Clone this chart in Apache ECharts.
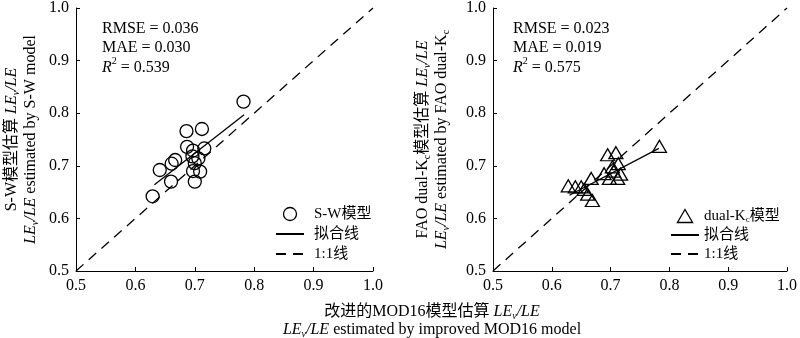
<!DOCTYPE html>
<html>
<head>
<meta charset="utf-8">
<script src="https://cdn.jsdelivr.net/npm/echarts@6/dist/echarts.min.js"></script>
<style>
html,body{margin:0;padding:0;background:#fff;}
#c{width:800px;height:338px;}
</style>
</head>
<body>
<div id="c"></div>
<script>
// ---- data ----
const axisTicks = [0.5, 0.6, 0.7, 0.8, 0.9, 1.0];
// S-W model: [improved MOD16, S-W]
const swPoints = [
  [0.782,0.822],[0.686,0.766],[0.712,0.770],[0.687,0.736],[0.697,0.729],
  [0.716,0.733],[0.696,0.718],[0.706,0.714],[0.667,0.711],[0.661,0.704],
  [0.641,0.692],[0.660,0.670],[0.700,0.670],[0.709,0.689],[0.697,0.690],
  [0.629,0.642],[0.700,0.705]
];
const swFit = [[0.632,0.664],[0.783,0.797]];
// FAO dual-Kc model: [improved MOD16, dual-Kc]
const kcPoints = [
  [0.783,0.737],[0.695,0.721],[0.709,0.725],[0.713,0.704],[0.703,0.698],
  [0.689,0.685],[0.698,0.676],[0.717,0.684],[0.712,0.676],[0.667,0.676],
  [0.628,0.662],[0.640,0.660],[0.650,0.660],[0.661,0.646],[0.669,0.634],
  [0.705,0.690],[0.655,0.655]
];
const kcFit = [[0.630,0.644],[0.782,0.733]];
const oneToOne = [[0.5,0.5],[1.0,1.0]];
const swStats = {rmse:'0.036', mae:'0.030', r2:'0.539'};
const kcStats = {rmse:'0.023', mae:'0.019', r2:'0.575'};

// ---- styling ----
const FF = '"Liberation Serif","Times New Roman","Noto Sans CJK SC",serif';
const rich = {
  n:{fontFamily:FF,fontSize:16,color:'#000',lineHeight:18.5},
  it:{fontFamily:FF,fontSize:16,color:'#000',fontStyle:'italic',lineHeight:18.5},
  sub:{fontFamily:FF,fontSize:10,color:'#000',fontStyle:'italic',verticalAlign:'bottom',lineHeight:14},
  subn:{fontFamily:FF,fontSize:10,color:'#000',verticalAlign:'bottom',lineHeight:14},
  sup:{fontFamily:FF,fontSize:10,color:'#000',verticalAlign:'top',lineHeight:22}
};
function axisCommon(){
  return {
    type:'value', min:0.5, max:1.0, interval:0.1,
    axisLine:{show:true,lineStyle:{color:'#000',width:1}},
    axisTick:{show:true,inside:true,length:4,lineStyle:{color:'#000'}},
    splitLine:{show:false},
    axisLabel:{color:'#000',fontFamily:FF,fontSize:16,margin:7,
      formatter:v=>v.toFixed(1)}
  };
}
const xA0 = Object.assign(axisCommon(),{gridIndex:0});
const xA1 = Object.assign(axisCommon(),{gridIndex:1});
const yA0 = Object.assign(axisCommon(),{gridIndex:0,
  name:'{n|S-W模型估算 }{it|LE}{sub|v}{it|/LE}\n{it|LE}{sub|v}{it|/LE}{n| estimated by S-W model}',
  nameLocation:'middle', nameGap:36, nameRotate:90,
  nameTextStyle:{rich:rich, align:'center'}
});
const yA1 = Object.assign(axisCommon(),{gridIndex:1,
  name:'{n|FAO dual-K}{subn|c}{n|模型估算 }{it|LE}{sub|v}{it|/LE}\n{it|LE}{sub|v}{it|/LE}{n| estimated by FAO dual-K}{subn|c}',
  nameLocation:'middle', nameGap:42, nameRotate:90,
  nameTextStyle:{rich:rich, align:'center'}
});

function statsText(x, s){
  return {
    type:'text', left:x, top:21,
    style:{
      text:'{n|RMSE = '+s.rmse+'}\n{n|MAE = '+s.mae+'}\n{it|R}{sup|2}{n| = '+s.r2+'}',
      rich:rich, fill:'#000'
    }
  };
}

function legendText(pad){
  return {fontFamily:FF,fontSize:15,color:'#000',padding:[0,0,0,pad],lineHeight:16,
    rich:{n:{fontFamily:FF,fontSize:15,color:'#000',lineHeight:16},
          sub:{fontFamily:FF,fontSize:9,color:'#000',verticalAlign:'bottom',lineHeight:12}}};
}
const hideSym = {color:'rgba(0,0,0,0)',borderColor:'rgba(0,0,0,0)',borderWidth:0,opacity:0};
const triPath = 'path://M7,0L14,12L0,12Z';

const option = {
  backgroundColor:'#fff',
  animation:false,
  grid:[
    {left:76, top:4, width:297, height:267},
    {left:493, top:4, width:296, height:267}
  ],
  xAxis:[xA0,xA1],
  yAxis:[yA0,yA1],
  legend:[
    {orient:'vertical', left:275, top:206, padding:0, itemWidth:28, itemHeight:13, itemGap:4,
     symbolKeepAspect:true, textStyle:legendText(5), selectedMode:false,
     data:[
       {name:'S-W模型', itemStyle:{borderWidth:1.3}},
       {name:'拟合线', itemStyle:hideSym},
       {name:'1:1线', itemStyle:hideSym}
     ]},
    {orient:'vertical', left:670, top:208, padding:0, itemWidth:28, itemHeight:13, itemGap:3,
     symbolKeepAspect:true, textStyle:legendText(0), selectedMode:false,
     data:[
       {name:'dual-Kc模型', icon:triPath, itemStyle:{borderWidth:1.3}},
       {name:'拟合线 ', itemStyle:hideSym},
       {name:'1:1线 ', itemStyle:hideSym}
     ],
     formatter:function(n){ return n==='dual-Kc模型' ? '{n|dual-K}{sub|c}{n|模型}' : n.trim(); }}
  ],
  graphic:[
    statsText(102, swStats),
    statsText(513, kcStats),
    {type:'text', x:432, y:312,
     style:{text:'{n|改进的MOD16模型估算 }{it|LE}{sub|v}{it|/LE}',
       rich:rich, fill:'#000', align:'center', verticalAlign:'middle'}},
    {type:'text', x:432, y:330,
     style:{text:'{it|LE}{sub|v}{it|/LE}{n| estimated by improved MOD16 model}',
       rich:rich, fill:'#000', align:'center', verticalAlign:'middle'}}
  ],
  series:[
    {name:'1:1线', type:'line', xAxisIndex:0, yAxisIndex:0, data:oneToOne, symbol:'none',
     itemStyle:{color:'#000'}, lineStyle:{color:'#000',width:1.3,type:[10,7]}, z:1},
    {name:'拟合线', type:'line', xAxisIndex:0, yAxisIndex:0, data:swFit, symbol:'none',
     itemStyle:{color:'#000'}, lineStyle:{color:'#000',width:1.3}, z:2},
    {name:'S-W模型', type:'scatter', xAxisIndex:0, yAxisIndex:0, data:swPoints,
     symbol:'circle', symbolSize:13,
     itemStyle:{color:'rgba(255,255,255,0)',borderColor:'#000',borderWidth:1.3,opacity:1}, z:3},
    {name:'1:1线 ', type:'line', xAxisIndex:1, yAxisIndex:1, data:oneToOne, symbol:'none',
     itemStyle:{color:'#000'}, lineStyle:{color:'#000',width:1.3,type:[10,7]}, z:1},
    {name:'拟合线 ', type:'line', xAxisIndex:1, yAxisIndex:1, data:kcFit, symbol:'none',
     itemStyle:{color:'#000'}, lineStyle:{color:'#000',width:1.3}, z:2},
    {name:'dual-Kc模型', type:'scatter', xAxisIndex:1, yAxisIndex:1, data:kcPoints,
     symbol:'triangle', symbolSize:[14,12],
     itemStyle:{color:'rgba(255,255,255,0)',borderColor:'#000',borderWidth:1.3,opacity:1}, z:3}
  ]
};
const chart = echarts.init(document.getElementById('c'), null, {renderer:'canvas'});
chart.setOption(option);
</script>
</body>
</html>
